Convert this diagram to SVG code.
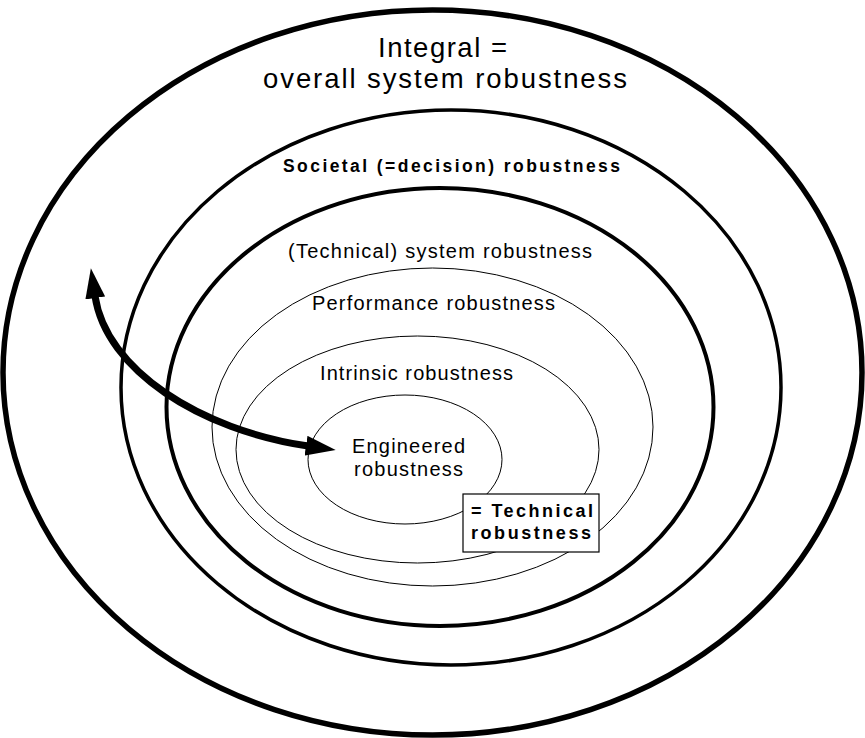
<svg xmlns="http://www.w3.org/2000/svg" width="865" height="738" viewBox="0 0 865 738">
<style>
.ring{fill:none;stroke:#000}
.t{font-family:"Liberation Sans",Arial,sans-serif;fill:#000}
.c{text-anchor:middle}
.b{font-weight:bold}
</style>
<defs>
<marker id="ah" viewBox="0 0 30 20" refX="2" refY="10" markerWidth="30" markerHeight="20" markerUnits="userSpaceOnUse" orient="auto-start-reverse">
<path d="M0,0 L30,10 L0,20 z" fill="#000"/>
</marker>
</defs>
<rect width="865" height="738" fill="#fff"/>
<g id="integral">
<ellipse class="ring" cx="432.5" cy="372.5" rx="429.5" ry="362.5" stroke-width="5.5"/>
<text class="t c" x="442.5" y="57" font-size="27.5" textLength="129" lengthAdjust="spacing">Integral =</text>
<text class="t c" x="445" y="88" font-size="27.5" textLength="364" lengthAdjust="spacing">overall system robustness</text>
</g>
<g id="societal">
<ellipse class="ring" cx="451" cy="387.5" rx="330" ry="277.5" stroke-width="3.5"/>
<text class="t c b" x="451.5" y="172" font-size="17.5" textLength="337" lengthAdjust="spacing">Societal (=decision) robustness</text>
</g>
<g id="system">
<ellipse class="ring" cx="440" cy="407" rx="273.5" ry="219" stroke-width="4"/>
<text class="t c" x="440" y="258" font-size="20" textLength="304" lengthAdjust="spacing">(Technical) system robustness</text>
</g>
<g id="performance">
<ellipse class="ring" cx="432.5" cy="427" rx="220.5" ry="159" stroke-width="1"/>
<text class="t c" x="433.5" y="310" font-size="20" textLength="243" lengthAdjust="spacing">Performance robustness</text>
</g>
<g id="intrinsic">
<ellipse class="ring" cx="417.5" cy="449.5" rx="181.5" ry="113.5" stroke-width="1"/>
<text class="t c" x="416.5" y="380" font-size="20" textLength="193" lengthAdjust="spacing">Intrinsic robustness</text>
</g>
<g id="engineered">
<ellipse class="ring" cx="405" cy="459.5" rx="97" ry="64.5" stroke-width="1"/>
<text class="t c" x="408.5" y="453" font-size="20" textLength="113" lengthAdjust="spacing">Engineered</text>
<text class="t c" x="408.5" y="476" font-size="20" textLength="109" lengthAdjust="spacing">robustness</text>
</g>
<g id="technical-box">
<rect x="463" y="494" width="136" height="58" fill="#fff" stroke="#000" stroke-width="1.2"/>
<text class="t b" x="471" y="517" font-size="18" textLength="122" lengthAdjust="spacing">= Technical</text>
<text class="t b" x="471" y="539" font-size="18" textLength="120" lengthAdjust="spacing">robustness</text>
</g>
<g id="connectors">
<path d="M95,296 C106,370 200,430 308,446" fill="none" stroke="#000" stroke-width="7" marker-start="url(#ah)" marker-end="url(#ah)"/>
</g>
</svg>
